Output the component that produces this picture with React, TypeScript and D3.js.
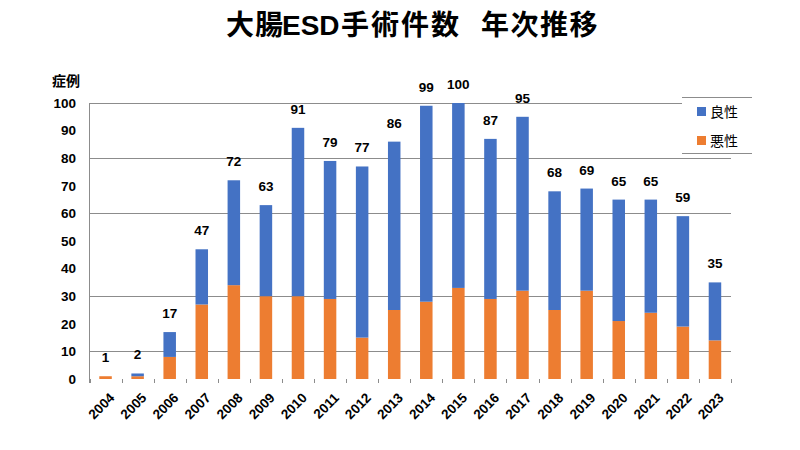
import React from "react";
import * as d3 from "d3";

const years = ["2004","2005","2006","2007","2008","2009","2010","2011","2012","2013","2014","2015","2016","2017","2018","2019","2020","2021","2022","2023"];
const malignant = [1,1,8,27,34,30,30,29,15,25,28,33,29,32,25,32,21,24,19,14];
const benign = [0,1,9,20,38,33,61,50,62,61,71,67,58,63,43,37,44,41,40,21];
const yTicks = [0,10,20,30,40,50,60,70,80,90,100];
const gridValues = [10,30,60,80,100];
const seriesNames = ["良性","悪性"];
const colors = ["#4472C4","#ED7D31"];

const W = 800, H = 450;
const left = 89.5, right = 731, top = 103, bottom = 379;

export default function App() {
  const x = d3.scaleBand<string>().domain(years).range([left, right]).paddingInner(0.61).paddingOuter(0.305);
  const xb = d3.scaleBand<string>().domain(years).range([left, right]);
  const y = d3.scaleLinear().domain([0, 100]).range([bottom, top]);
  const rows = years.map((yr, i) => ({ yr, mal: malignant[i], ben: benign[i], total: malignant[i] + benign[i] }));
  const stack = d3.stack<any>().keys(["mal", "ben"])(rows as any);
  const num = "'Liberation Sans', Arial, sans-serif";
  const jp = "'Noto Sans CJK JP', sans-serif";
  return (
    <svg width={W} height={H} style={{ position: "absolute", left: 0, top: 0, background: "#fff" }}>
      <text y={35} fontWeight="bold" fontSize={28}>
        <tspan x={226} fontFamily={jp} letterSpacing={1}>大腸</tspan>
        <tspan x={282} fontFamily={num}>ESD</tspan>
        <tspan x={341} fontFamily={jp} letterSpacing={2}>手術件数</tspan>
        <tspan x={481} fontFamily={jp} letterSpacing={1.5}>年次推移</tspan>
      </text>
      <text x={52} y={86} fontFamily={jp} fontWeight="bold" fontSize={14}>症例</text>
      {gridValues.map(v => (
        <line key={v} x1={left} x2={right} y1={Math.round(y(v)) + 0.5} y2={Math.round(y(v)) + 0.5} stroke="#8c8c8c" strokeWidth={1} />
      ))}
      <line x1={left} x2={left} y1={top} y2={bottom + 4} stroke="#8c8c8c" />
      {xb.domain().concat(["end"]).map((d, i) => {
        const xx = Math.round(left + i * xb.bandwidth()) + 0.5;
        return <line key={d} x1={xx} x2={xx} y1={bottom} y2={bottom + 4} stroke="#8c8c8c" />;
      })}
      {yTicks.map(v => (
        <text key={v} x={76} y={y(v)} dy="0.35em" textAnchor="end" fontFamily={num} fontWeight="bold" fontSize={13.5}>{v}</text>
      ))}
      {stack.map((s, si) => (
        <g key={si} fill={colors[si === 0 ? 1 : 0]}>
          {s.map((d: any, i) => (
            <rect key={i} x={x(years[i])} width={x.bandwidth()} y={y(d[1])} height={Math.max(0, y(d[0]) - y(d[1]))} />
          ))}
        </g>
      ))}
      {rows.map(r => (
        <text key={r.yr} x={(x(r.yr) as number) + x.bandwidth() / 2} y={y(r.total) - 14} textAnchor="middle" fontFamily={num} fontWeight="bold" fontSize={13.5}>{r.total}</text>
      ))}
      {years.map(yr => {
        const cx = (xb(yr) as number) + xb.bandwidth() / 2 + 4;
        const cy = 393;
        return (
          <text key={yr} x={cx} y={cy} transform={`rotate(-45 ${cx} ${cy})`} textAnchor="end" dy="0.6em" fontFamily={num} fontWeight="bold" fontSize={13.5}>{yr}</text>
        );
      })}
      <rect x={682} y={97} width={70} height={56} fill="#fff" />
      <line x1={682} x2={752} y1={97.5} y2={97.5} stroke="#8c8c8c" />
      <line x1={682} x2={752} y1={153.5} y2={153.5} stroke="#8c8c8c" />
      {seriesNames.map((n, i) => (
        <g key={n}>
          <rect x={697} y={107 + i * 29} width={9} height={9} fill={colors[i]} />
          <text x={710} y={111.5 + i * 29} dy="0.38em" fontFamily={jp} fontSize={14}>{n}</text>
        </g>
      ))}
    </svg>
  );
}
